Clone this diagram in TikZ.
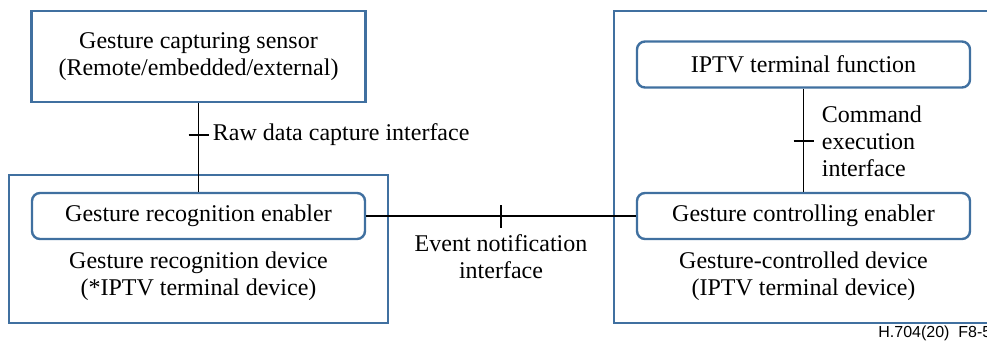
\documentclass[tikz,border=0pt]{standalone}
\usepackage{fontspec}
\setmainfont{Liberation Serif}
\newfontfamily\tagfont{Liberation Sans}
\usetikzlibrary{positioning}

\definecolor{boxblue}{RGB}{64,112,160}

\tikzset{
	box/.style={draw=boxblue, line width=1.2pt, inner sep=0pt, align=center},
	func/.style={box, rounded corners=4pt, minimum width=166.5pt, minimum height=23pt},
	lbl/.style={inner sep=0pt, align=left},
	link/.style={line width=0.8pt},
}

\begin{document}
\begin{tikzpicture}[x=0.5pt, y=-0.5pt, font=\fontsize{12}{13.5}\selectfont]
	\useasboundingbox (0,0) rectangle (987,344);

	% the two devices
	\node[box, minimum width=189.5pt, minimum height=74pt] (recdev) at (198.5,249) {};
	\node[box, minimum width=193pt, minimum height=156pt] (ctldev) at (807,167) {};
	\node[lbl, align=center] (recdevtxt) at (198.5,276.5) {Gesture recognition device\\(*IPTV terminal device)};
	\node[lbl, align=center] (ctldevtxt) at (803.5,276.5) {Gesture-controlled device\\(IPTV terminal device)};

	% sensor and functions
	\node[box, minimum width=167pt, minimum height=45.5pt] (sensor) at (198.5,56.5) {Gesture capturing sensor\\(Remote/embedded/external)};
	\node[func] (recen) at (198.5,216) {Gesture recognition enabler};
	\node[func] (iptvfn) at (803.5,64.5) {IPTV terminal function};
	\node[func] (ctlen) at (803.5,216) {Gesture controlling enabler};

	% interfaces
	\draw[link] (sensor) -- coordinate[pos=.36] (rawtick) (recen);
	\draw[link] ([xshift=-5pt]rawtick) -- ([xshift=5pt]rawtick);
	\node[lbl, anchor=west] (rawlbl) at ([xshift=7pt]rawtick) {Raw data capture interface};

	\draw[link] (recen) -- coordinate[pos=.5] (evtick) (ctlen);
	\draw[link] ([yshift=-5.75pt]evtick) -- ([yshift=5.75pt]evtick);
	\node[lbl, align=center, below=9pt of evtick] (evlbl) {Event notification\\interface};

	\draw[link] (iptvfn) -- coordinate[pos=.51] (cmdtick) (ctlen);
	\draw[link] ([xshift=-5pt]cmdtick) -- ([xshift=5pt]cmdtick);
	\node[lbl, anchor=west] (cmdlbl) at ([xshift=9pt]cmdtick) {Command\\execution\\interface};

	\node[inner sep=0pt, anchor=base west, font=\tagfont\fontsize{8}{9.5}\selectfont] (figtag) at (878,337) {H.704(20)\ \ F8-5};
\end{tikzpicture}
\end{document}
